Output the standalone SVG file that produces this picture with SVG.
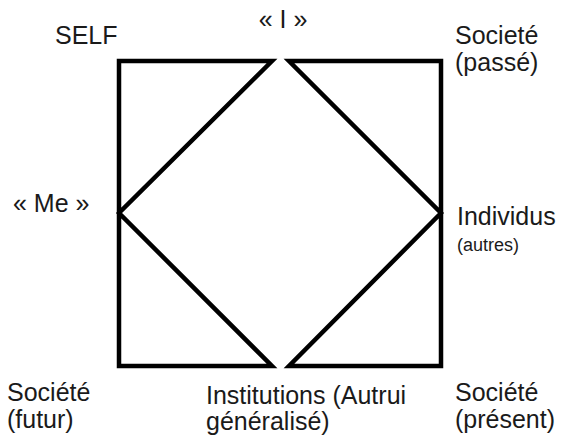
<svg xmlns="http://www.w3.org/2000/svg" width="570" height="440" viewBox="0 0 570 440">
<style>
.t{font-family:"Liberation Sans",Arial,sans-serif;font-size:25px;fill:#1a1a1a}
.s{font-size:18px}
.e{fill:none;stroke:#000;stroke-width:4.5;stroke-linejoin:miter;stroke-miterlimit:10}
</style>
<rect width="570" height="440" fill="#fff"/>
<g id="connectors">
<polygon class="e" points="272,61 119,61 119,366 272,366 119,213"/>
<polygon class="e" points="289,61 441,61 441,366 289,366 441,213"/>
</g>
<g id="self"><text class="t" x="55" y="44">SELF</text></g>
<g id="i"><text class="t" x="283" y="28" text-anchor="middle">« I »</text></g>
<g id="societe-passe"><text class="t" x="455" y="44">Societé</text><text class="t" x="455" y="71">(passé)</text></g>
<g id="me"><text class="t" x="13" y="212">« Me »</text></g>
<g id="individus"><text class="t" x="457" y="225">Individus</text><text class="t s" x="457" y="251">(autres)</text></g>
<g id="societe-futur"><text class="t" x="7" y="401">Société</text><text class="t" x="7" y="428">(futur)</text></g>
<g id="institutions"><text class="t" x="206" y="404">Institutions (Autrui</text><text class="t" x="206" y="430">généralisé)</text></g>
<g id="societe-present"><text class="t" x="455" y="401">Société</text><text class="t" x="455" y="428">(présent)</text></g>
</svg>
